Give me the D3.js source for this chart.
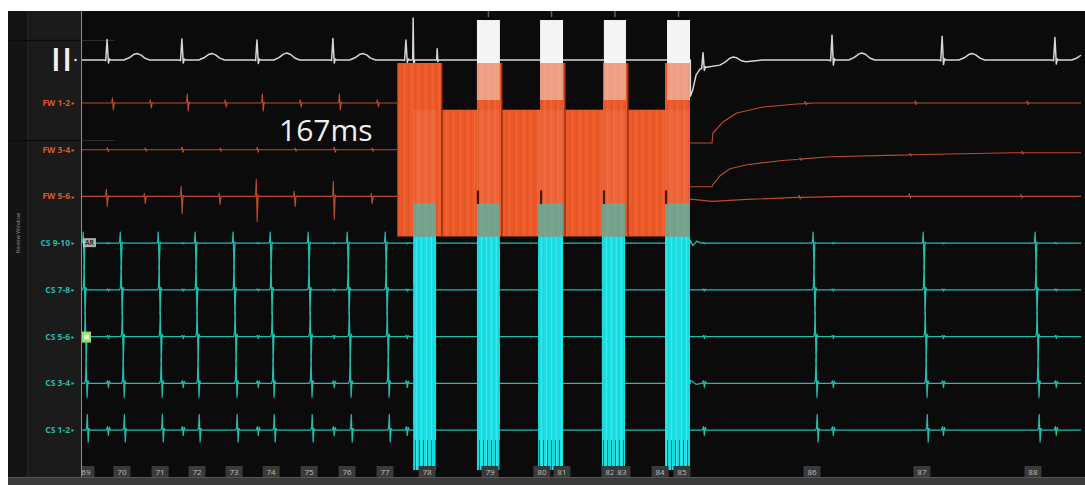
<!DOCTYPE html>
<html>
<head>
<meta charset="utf-8">
<title>Atrial pacing train – surface ECG and intracardiac electrograms</title>
<script src="https://cdn.jsdelivr.net/npm/d3@7/dist/d3.min.js"></script>
<style>
  html, body { margin: 0; padding: 0; background: #ffffff; }
  svg { display: block; }
</style>
</head>
<body>
<svg id="ep" width="1085" height="485"></svg>
<script>
// ---------------------------------------------------------------
// Recording data
// ---------------------------------------------------------------
const channels = ["II", "FW 1-2", "FW 3-4", "FW 5-6", "CS 9-10", "CS 7-8", "CS 5-6", "CS 3-4", "CS 1-2"];
const sweepMs = [0, 4450];

// atrial activation times (ms), before and after the pacing train
const atrialTimes = [9, 174, 343, 507, 676, 841, 1010, 1184, 1353, 3257, 3747, 4245];

// surface QRS (lead II): times (ms), R and S amplitudes, T-wave amplitude (mV)
const qrsTimes = [116, 449, 783, 1121, 1446, 2768, 3342, 3832, 4334];
const qrsR     = [0.82, 0.84, 0.80, 0.86, 0.80, 0.62, 1.00, 0.95, 0.90];
const qrsS     = [0.12, 0.12, 0.14, 0.12, 0.10, 0.10, 0.20, 0.18, 0.16];
const tWave    = [0.26, 0.26, 0.28, 0.26, 0.00, 0.24, 0.28, 0.26, 0.24];
const ecgIsoelectric = -0.15;

// stimulus artefacts on lead II at the start of the train (ms, mV)
const stimTimes = [1478, 1585];
const stimAmp   = [1.68, 0.45];

// free-wall bipoles: conduction delay to atrial beat (ms), deflection per beat (mV)
const fwDelay = { "FW 1-2": -35, "FW 3-4": -58, "FW 5-6": -62 };
const fwUp = {
  "FW 1-2": [0, 0.20, 0.12, 0.36, 0.12, 0.36, 0.12, 0.36, 0.12, 0.08, 0.08, 0.08],
  "FW 3-4": [0, 0.08, 0.06, 0.10, 0.06, 0.10, 0.06, 0.10, 0.06, 0.05, 0.05, 0.05],
  "FW 5-6": [0, 0.28, 0.12, 0.40, 0.12, 0.68, 0.20, 0.60, 0.12, 0.08, 0.10, 0.08]
};
const fwDown = {
  "FW 1-2": [0, 0.28, 0.20, 0.32, 0.16, 0.32, 0.16, 0.28, 0.16, 0.06, 0.06, 0.06],
  "FW 3-4": [0, 0.08, 0.06, 0.10, 0.06, 0.10, 0.06, 0.10, 0.06, 0.05, 0.05, 0.05],
  "FW 5-6": [0, 0.40, 0.28, 0.68, 0.32, 1.00, 0.40, 0.92, 0.28, 0.06, 0.06, 0.06]
};

// coronary sinus bipoles: delay (ms), atrial deflection (mV), ventricular far-field (mV)
const csDelay  = { "CS 9-10": 0, "CS 7-8": 4, "CS 5-6": 9, "CS 3-4": 13, "CS 1-2": 18 };
const csUp     = { "CS 9-10": 0.44, "CS 7-8": 1.00, "CS 5-6": 1.00, "CS 3-4": 1.00, "CS 1-2": 0.62 };
const csDown   = { "CS 9-10": 1.05, "CS 7-8": 1.00, "CS 5-6": 1.00, "CS 3-4": 0.56, "CS 1-2": 0.48 };
const farField = { "CS 9-10": 0.03, "CS 7-8": 0.05, "CS 5-6": 0.08, "CS 3-4": 0.17, "CS 1-2": 0.22 };

// baseline recovery after the train ends (ms, mV)
const recovery = {
  "II":      [[2712, -1.45], [2722, -1.2], [2737, -0.6], [2755, -0.35], [2790, -0.28], [2900, -0.12], [3035, 0]],
  "FW 1-2":  [[2710, -1.6], [2808, -1.6], [2812, -1.2], [2857, -0.76], [2919, -0.4], [3035, -0.16], [3186, -0.04], [3257, 0]],
  "FW 3-4":  [[2710, -1.48], [2808, -1.48], [2812, -1.4], [2844, -1.04], [2888, -0.76], [2964, -0.6], [3111, -0.44], [3333, -0.28], [3702, -0.2], [4147, -0.12], [4450, -0.12]],
  "FW 5-6":  [[2710, -0.12], [2723, -0.12], [2808, -0.2], [2964, -0.12], [3186, -0.04], [3400, 0]],
  "CS 9-10": [[2712, 0.12], [2723, -0.1], [2740, 0.08], [2760, 0]],
  "CS 3-4":  [[2712, 0.12], [2737, -0.04], [2760, 0]]
};

// amplifier saturation during the pacing train (ms intervals)
const fwSaturation = {
  "FW 1-2": [[1407, 1606], [1762, 1873], [2043, 2154], [2323, 2434], [2599, 2710]],
  "FW 3-4": [[1407, 2710]],
  "FW 5-6": [[1407, 2710]]
};
const iiSaturation = [[1762, 1864], [2043, 2145], [2327, 2425], [2608, 2710]];
const csSaturation = [[1478, 1580], [1762, 1864], [2034, 2145], [2318, 2421], [2599, 2710]];
const clipMv = 1.6;

// beat counter along the sweep
const beatLabels     = ["69", "70", "71", "72", "73", "74", "75", "76", "77", "78", "79", "80", "81", "82", "83", "84", "85", "86", "87", "88"];
const beatLabelTimes = [22, 182, 352, 516, 681, 846, 1015, 1184, 1353, 1540, 1820, 2051, 2140, 2354, 2407, 2577, 2674, 3253, 3742, 4236];

const cycleLabel = "167ms";

// waveform shapes: [ms from event, relative amplitude]
const qrsShape      = [[-16, 0], [-6, -0.15], [0, 1], [6, -1], [11, 0.05], [16, 0]];
const tShape        = [[75, 0], [98, 0.35], [118, 0.85], [133, 1], [150, 0.8], [168, 0.3], [190, 0]];
const stimShape     = [[-2, 0], [0, 1], [3, -0.15], [7, 0]];
const egmShape      = [[-6, 0], [-2, 0.12], [1, 1], [5, -1], [9, 0.1], [13, 0]];
const farFieldShape = [[-8, 0], [-3, 0.6], [1, -1], [5, 0.5], [9, 0]];

// ---------------------------------------------------------------
// Layout and scales
// ---------------------------------------------------------------
const svg = d3.select("#ep");
const plotLeft = 81, plotRight = 1081, plotTop = 11, plotBottom = 477;

const x = d3.scaleLinear().domain(sweepMs).range([plotLeft, plotRight]);
const yBase = d3.scalePoint().domain(channels).range([56.3, 430]);
const mv = d3.scaleLinear().domain([0, 1]).range([0, -25]);
const offsetOf = ch => (ch === "II" ? ecgIsoelectric : 0);
const yAt = (ch, v) => yBase(ch) + mv(v + offsetOf(ch));

const colour = {
  II: "#d6d6d6", FW: "#bc4c2b", CS: "#22bcae",
  orange: "#ec5a29", white: "#f4f4f4", cyan: "#1ae0e4"
};
const groupOf = ch => (ch === "II" ? "II" : ch.slice(0, 2));

// ---------------------------------------------------------------
// Frame
// ---------------------------------------------------------------
svg.append("rect").attr("x", 8).attr("y", plotTop).attr("width", 1077).attr("height", 474).attr("fill", "#0b0b0b");
svg.append("rect").attr("x", 8).attr("y", plotTop).attr("width", plotLeft - 8).attr("height", plotBottom - plotTop).attr("fill", "#1b1b1b");
svg.append("rect").attr("x", 8).attr("y", plotTop).attr("width", 19).attr("height", plotBottom - plotTop).attr("fill", "#141414");
svg.append("line").attr("x1", 27.5).attr("x2", 27.5).attr("y1", plotTop).attr("y2", plotBottom).attr("stroke", "#262626");
svg.append("rect").attr("x", 8).attr("y", plotBottom).attr("width", 1077).attr("height", 485 - plotBottom).attr("fill", "#3b3b3b");
svg.append("line").attr("x1", 8).attr("x2", 1085).attr("y1", plotBottom + 0.5).attr("y2", plotBottom + 0.5).attr("stroke", "#555");

// header box outline at the top left
[40.5, 140.5].forEach(yy => {
  svg.append("line").attr("x1", 8).attr("x2", plotLeft).attr("y1", yy).attr("y2", yy).attr("stroke", "#0c0c0c").attr("stroke-width", 1.5);
  svg.append("line").attr("x1", plotLeft).attr("x2", 115).attr("y1", yy).attr("y2", yy).attr("stroke", "#2a2a2a").attr("stroke-width", 1.2);
});

const defs = svg.append("defs");
defs.append("clipPath").attr("id", "plotClip").append("rect")
  .attr("x", plotLeft + 1).attr("y", plotTop).attr("width", 1085 - plotLeft - 1).attr("height", plotBottom - plotTop);

const cyanPat = defs.append("pattern").attr("id", "cyanStripes").attr("patternUnits", "userSpaceOnUse")
  .attr("width", 5).attr("height", 12);
cyanPat.append("rect").attr("width", 5).attr("height", 12).attr("fill", colour.cyan);
cyanPat.append("rect").attr("x", 1).attr("width", 1).attr("height", 12).attr("fill", "#8cf5f5").attr("opacity", 0.3);
cyanPat.append("rect").attr("x", 3).attr("width", 1).attr("height", 12).attr("fill", "#12c4c8").attr("opacity", 0.35);

const orangePat = defs.append("pattern").attr("id", "orangeGrain").attr("patternUnits", "userSpaceOnUse")
  .attr("width", 7).attr("height", 12);
orangePat.append("rect").attr("width", 7).attr("height", 12).attr("fill", colour.orange);
orangePat.append("rect").attr("x", 2).attr("width", 1).attr("height", 12).attr("fill", "#c8441c").attr("opacity", 0.35);
orangePat.append("rect").attr("x", 5).attr("width", 1).attr("height", 12).attr("fill", "#ff7c4a").attr("opacity", 0.3);

const strandPat = defs.append("pattern").attr("id", "strands").attr("patternUnits", "userSpaceOnUse")
  .attr("width", 4).attr("height", 12);
strandPat.append("rect").attr("x", 3).attr("width", 1).attr("height", 12).attr("fill", "#050505").attr("opacity", 0.55);

const plot = svg.append("g").attr("clip-path", "url(#plotClip)");

// ---------------------------------------------------------------
// Traces
// ---------------------------------------------------------------
function scaledShape(shape, up, down) {
  return shape.map(([dt, v]) => [dt, v >= 0 ? v * up : v * down]);
}
function interp(points, t) {
  if (!points || !points.length || t < points[0][0]) return 0;
  if (t >= points[points.length - 1][0]) return points[points.length - 1][1];
  for (let i = 1; i < points.length; i++) {
    if (t <= points[i][0]) {
      const [t0, v0] = points[i - 1], [t1, v1] = points[i];
      return v0 + (v1 - v0) * (t - t0) / (t1 - t0);
    }
  }
  return 0;
}
function channelEvents(ch) {
  const ev = [];
  if (ch === "II") {
    qrsTimes.forEach((t, i) => {
      ev.push({ t, pts: scaledShape(qrsShape, qrsR[i], qrsS[i]) });
      if (tWave[i] > 0) ev.push({ t, pts: scaledShape(tShape, tWave[i], tWave[i]) });
    });
    stimTimes.forEach((t, i) => ev.push({ t, pts: scaledShape(stimShape, stimAmp[i], stimAmp[i]) }));
  } else if (groupOf(ch) === "FW") {
    atrialTimes.forEach((t, i) => {
      if (fwUp[ch][i] > 0) ev.push({ t: t + fwDelay[ch], pts: scaledShape(egmShape, fwUp[ch][i], fwDown[ch][i]) });
    });
  } else {
    atrialTimes.forEach(t => ev.push({ t: t + csDelay[ch], pts: scaledShape(egmShape, csUp[ch], csDown[ch]) }));
    qrsTimes.forEach(t => ev.push({ t: t + 5, pts: scaledShape(farFieldShape, farField[ch], farField[ch]) }));
  }
  return ev;
}
function eventValue(e, t) {
  const a = e.t + e.pts[0][0], b = e.t + e.pts[e.pts.length - 1][0];
  if (t <= a || t >= b) return 0;
  return interp(e.pts.map(([dt, v]) => [e.t + dt, v]), t);
}
function traceSegment(ch, t0, t1) {
  const ev = channelEvents(ch);
  const rec = recovery[ch];
  const knots = new Set([t0, t1]);
  ev.forEach(e => e.pts.forEach(([dt]) => { const t = e.t + dt; if (t > t0 && t < t1) knots.add(t); }));
  if (rec) rec.forEach(([t]) => { if (t > t0 && t < t1) { knots.add(t); knots.add(t - 0.5); } });
  return Array.from(knots).sort((a, b) => a - b).map(t => {
    let v = interp(rec, t);
    ev.forEach(e => { v += eventValue(e, t); });
    return [t, v];
  });
}

const segmentsFor = ch => (groupOf(ch) === "FW"
  ? [[sweepMs[0], fwSaturation["FW 3-4"][0][0]], [fwSaturation["FW 3-4"][0][1], sweepMs[1]]]
  : [sweepMs]);

const strokeWidth = { II: 1.5, FW: 1.15, CS: 1.25 };
channels.forEach(ch => {
  const line = d3.line().x(d => x(d[0])).y(d => yAt(ch, d[1]));
  segmentsFor(ch).forEach(([t0, t1]) => {
    plot.append("path")
      .attr("d", line(traceSegment(ch, t0, t1)))
      .attr("fill", "none")
      .attr("stroke", colour[groupOf(ch)])
      .attr("stroke-width", strokeWidth[groupOf(ch)])
      .attr("stroke-linejoin", "round");
  });
});

// ---------------------------------------------------------------
// Saturated amplifier blocks during pacing
// ---------------------------------------------------------------
const bandTop = ch => yAt(ch, clipMv);
const bandBottom = ch => yAt(ch, -clipMv);
function satBlocks(g, ch, intervals, fill, opacity) {
  g.selectAll(null).data(intervals).enter().append("rect")
    .attr("x", d => x(d[0])).attr("width", d => x(d[1]) - x(d[0]))
    .attr("y", bandTop(ch)).attr("height", bandBottom(ch) - bandTop(ch))
    .attr("fill", fill).attr("opacity", opacity);
}
const csChannels = channels.filter(c => groupOf(c) === "CS");
const fwChannels = channels.filter(c => groupOf(c) === "FW");

csChannels.forEach(ch => satBlocks(plot, ch, csSaturation, "url(#cyanStripes)", 1));
satBlocks(plot, "II", iiSaturation, colour.white, 1);
fwChannels.forEach(ch => satBlocks(plot, ch, fwSaturation[ch], "url(#orangeGrain)", 1));
satBlocks(plot, "II", iiSaturation, colour.white, 0.45);

// CS 9-10 bursts showing through the lower edge of the orange block
plot.selectAll(null).data(csSaturation).enter().append("rect")
  .attr("x", d => x(d[0])).attr("width", d => x(d[1]) - x(d[0]))
  .attr("y", bandTop("CS 9-10")).attr("height", bandBottom("FW 5-6") - bandTop("CS 9-10"))
  .attr("fill", "#2fcfcc").attr("opacity", 0.62);

// brighter columns where the coronary sinus stimuli land
plot.selectAll(null).data(csSaturation).enter().append("rect")
  .attr("x", d => x(d[0])).attr("width", d => x(d[1]) - x(d[0]))
  .attr("y", bandTop("FW 3-4")).attr("height", bandTop("CS 9-10") - bandTop("FW 3-4"))
  .attr("fill", "#ffffff").attr("opacity", 0.07);

// loose strands at the lower end of the CS 1-2 blocks
plot.selectAll(null).data(csSaturation).enter().append("rect")
  .attr("x", d => x(d[0])).attr("width", d => x(d[1]) - x(d[0]))
  .attr("y", yAt("CS 1-2", -0.4)).attr("height", bandBottom("CS 1-2") - yAt("CS 1-2", -0.4))
  .attr("fill", "url(#strands)");

// recovery edges of the FW 1-2 bursts inside the orange block
const fw12 = fwSaturation["FW 1-2"];
plot.selectAll(null).data(fw12.slice(0, -1)).enter().append("line")
  .attr("x1", d => x(d[1])).attr("x2", d => x(d[1]))
  .attr("y1", bandTop("FW 1-2")).attr("y2", bandBottom("FW 5-6"))
  .attr("stroke", "#8a2a10").attr("stroke-width", 1.6).attr("opacity", 0.85);
plot.selectAll(null).data(fw12.slice(1)).enter().append("line")
  .attr("x1", d => x(d[0]) + 1).attr("x2", d => x(d[0]) + 1)
  .attr("y1", yAt("FW 5-6", 0.24)).attr("y2", yAt("FW 5-6", -0.3))
  .attr("stroke", "#4a1406").attr("stroke-width", 2.2);
plot.append("line")
  .attr("x1", x(fw12[0][0]) + 0.5).attr("x2", x(fw12[0][0]) + 0.5)
  .attr("y1", bandTop("FW 1-2")).attr("y2", bandBottom("FW 5-6"))
  .attr("stroke", "#9a3414").attr("stroke-width", 1);

// stimulus markers along the top edge
plot.selectAll(null).data(iiSaturation).enter().append("line")
  .attr("x1", d => x((d[0] + d[1]) / 2)).attr("x2", d => x((d[0] + d[1]) / 2))
  .attr("y1", plotTop).attr("y2", plotTop + 6)
  .attr("stroke", "#6d6238").attr("stroke-width", 1.5);

// ---------------------------------------------------------------
// Beat counter
// ---------------------------------------------------------------
const ruler = plot.append("g");
const rulerItems = ruler.selectAll("g").data(beatLabels.map((lab, i) => ({ lab, t: beatLabelTimes[i] })))
  .enter().append("g").attr("transform", d => `translate(${x(d.t)},0)`);
rulerItems.append("rect").attr("x", -8.5).attr("y", 466).attr("width", 17).attr("height", 11)
  .attr("fill", "#3a3a3a");
rulerItems.append("text").attr("y", 474.5).attr("text-anchor", "middle")
  .attr("font-family", "'Open Sans', 'DejaVu Sans', sans-serif").attr("font-size", 8)
  .attr("fill", "#bdbdbd").text(d => d.lab);

// ---------------------------------------------------------------
// Channel labels
// ---------------------------------------------------------------
svg.append("line").attr("x1", plotLeft + 0.5).attr("x2", plotLeft + 0.5)
  .attr("y1", plotTop).attr("y2", plotBottom).attr("stroke", "#8e8e8e").attr("stroke-width", 1);

const labels = svg.append("g").attr("font-family", "'Open Sans', 'DejaVu Sans', sans-serif");
channels.filter(c => c !== "II").forEach(ch => {
  const fill = groupOf(ch) === "FW" ? "#d65a30" : "#25b9ae";
  labels.append("text").attr("x", 70).attr("y", yBase(ch)).attr("dy", "0.35em")
    .attr("text-anchor", "end").attr("font-size", 8.5).attr("font-weight", 700)
    .attr("fill", fill).text(ch);
  labels.append("text").attr("x", 71.5).attr("y", yBase(ch)).attr("dy", "0.35em")
    .attr("font-size", 6).attr("fill", fill).text("▸");
});
labels.append("text").attr("x", 51).attr("y", yAt("II", 0) + 10.5)
  .attr("font-size", 32).attr("font-weight", 600).attr("letter-spacing", 1.5).attr("fill", "#f0f0f0").text("II");
labels.append("circle").attr("cx", 75.5).attr("cy", yAt("II", 0)).attr("r", 1.3).attr("fill", "#e0e0e0");

labels.append("text").attr("transform", `translate(19.5,${yBase("CS 9-10") - 10}) rotate(-90)`)
  .attr("text-anchor", "middle").attr("font-size", 5.5).attr("fill", "#8c8c8c").text("Review Window");

// reference markers on the CS bipoles
const arTag = svg.append("g").attr("transform", `translate(83,${yBase("CS 9-10") - 5})`);
arTag.append("rect").attr("width", 13).attr("height", 9).attr("fill", "#c9c9c9").attr("opacity", 0.85);
arTag.append("text").attr("x", 6.5).attr("y", 7).attr("text-anchor", "middle")
  .attr("font-family", "'Open Sans', sans-serif").attr("font-size", 6.5).attr("font-weight", 700)
  .attr("fill", "#2a2a2a").text("AR");
const greenTag = svg.append("g").attr("transform", `translate(82,${yBase("CS 5-6") - 5})`);
greenTag.append("rect").attr("width", 9).attr("height", 11).attr("fill", "#96dc74");
greenTag.append("rect").attr("x", 2).attr("y", 3).attr("width", 5).attr("height", 5).attr("fill", "#d9f5c9");

// cycle length annotation
svg.append("text").attr("x", 279).attr("y", 140.5)
  .attr("font-family", "'Open Sans', sans-serif").attr("font-size", 30)
  .attr("fill", "#f0f0f0").text(cycleLabel);
</script>
</body>
</html>
